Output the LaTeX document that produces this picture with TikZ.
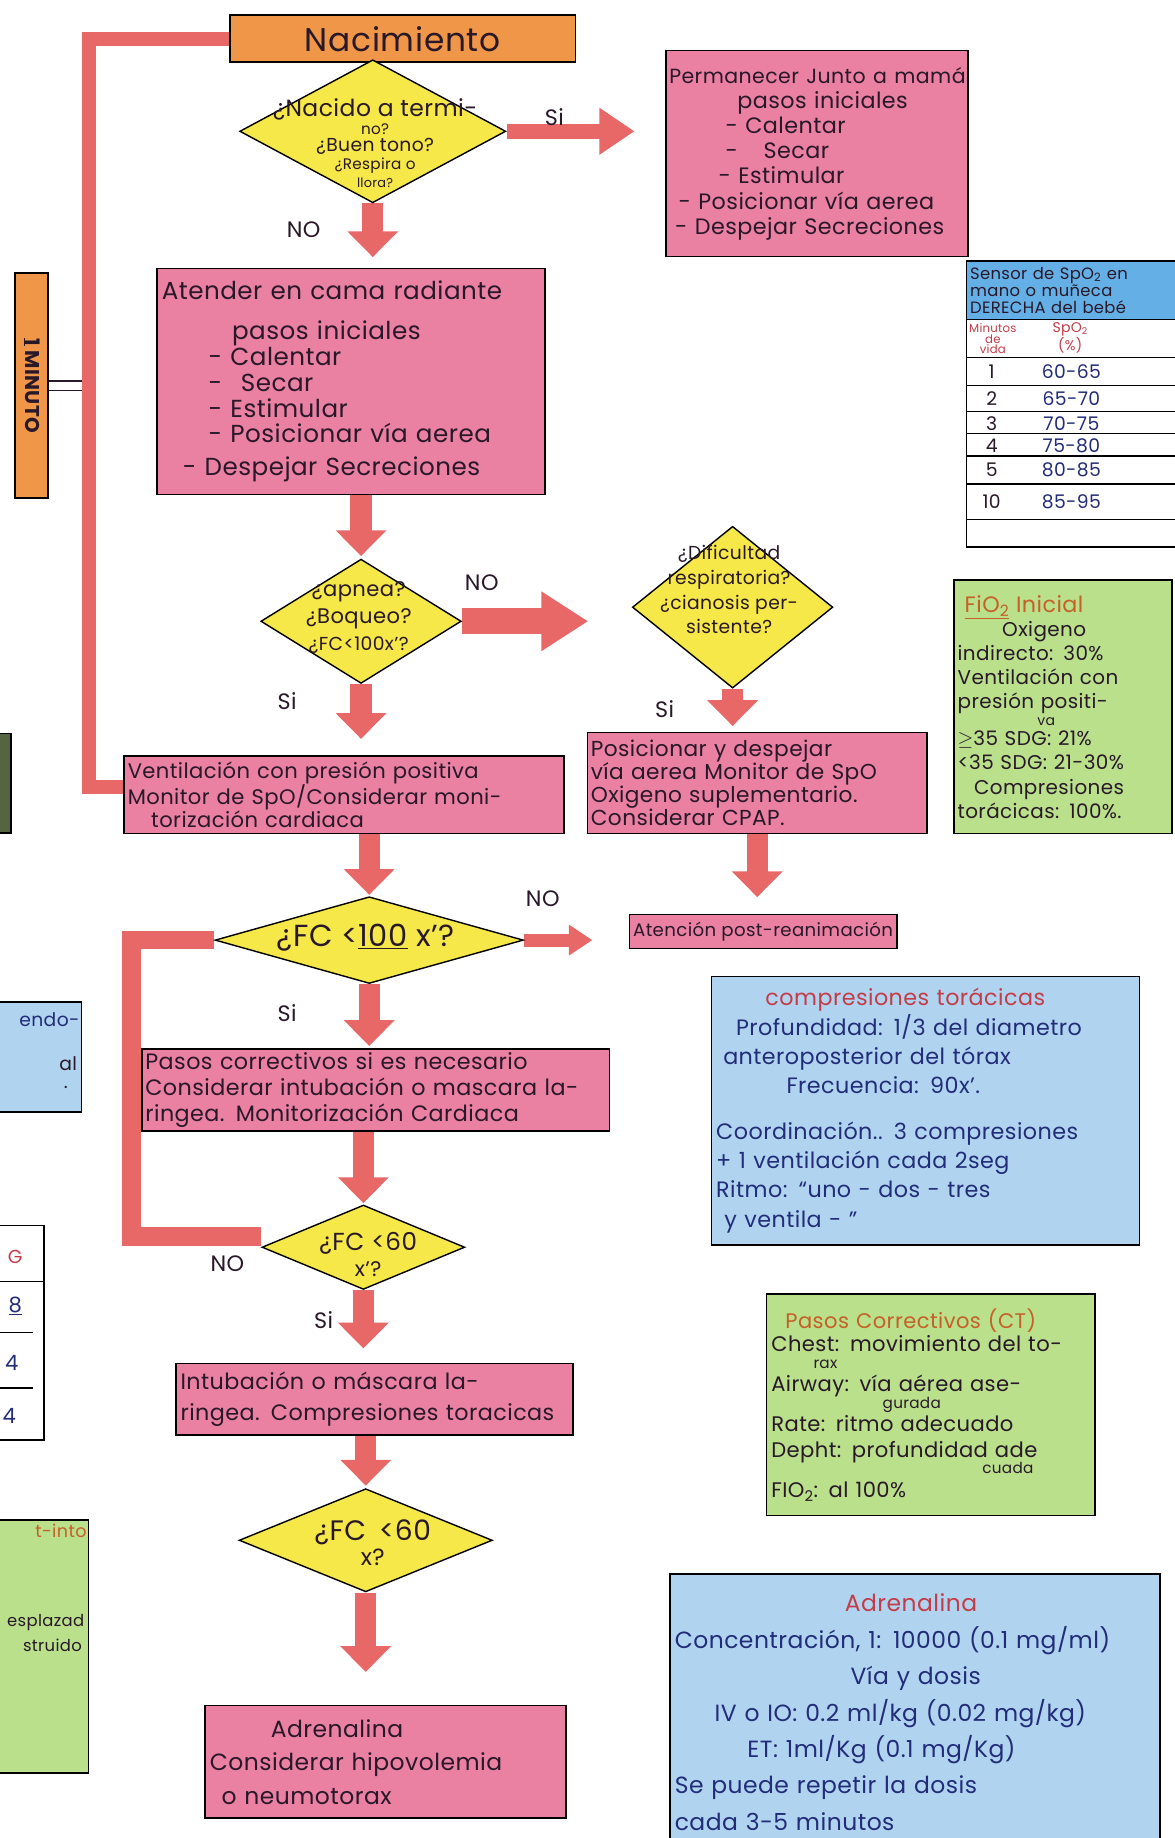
\documentclass[tikz,border=0pt]{standalone}
\usepackage{fontspec}
\setmainfont{Poppins}[LetterSpace=2.0]
\usetikzlibrary{shapes.geometric,arrows.meta,calc}
\pgfdeclarelayer{paper}
\pgfdeclarelayer{bg}
\pgfsetlayers{paper,bg,main}
\definecolor{pinkc}{RGB}{234,128,162}
\definecolor{arrowc}{RGB}{232,104,104}
\definecolor{yelc}{RGB}{246,232,72}
\definecolor{orc}{RGB}{240,150,72}
\definecolor{bluec}{RGB}{176,212,240}
\definecolor{bluehd}{RGB}{100,176,230}
\definecolor{greenc}{RGB}{186,224,140}
\definecolor{inkc}{RGB}{40,24,40}
\definecolor{blueink}{RGB}{34,44,120}
\definecolor{redink}{RGB}{196,60,72}
\definecolor{brownink}{RGB}{196,96,40}
\newcommand\fsz[2]{\fontsize{#1pt}{#2pt}\selectfont}
\begin{document}
\begin{tikzpicture}[x=1pt,y=-1pt,
  box/.style={draw=black, line width=1.3pt, text=inkc, inner sep=3pt},
  pinkbox/.style={box, fill=pinkc},
  dia/.style={diamond, draw=black, line width=1.2pt, fill=yelc, inner sep=0pt},
  dtext/.style={align=center, text=inkc, inner sep=0pt},
  lbl/.style={text=inkc, font=\fsz{19}{20}},
  arrowA/.style={draw=arrowc, line width=18pt, -{Triangle[length=22pt,width=42pt]}},
  arrowS/.style={draw=arrowc, line width=13pt, -{Triangle[length=30pt,width=38pt]}},
  arrowW/.style={draw=arrowc, line width=22pt, -{Triangle[length=40pt,width=48pt]}},
  arrowN/.style={draw=arrowc, line width=11pt, -{Triangle[length=20pt,width=25pt]}},
  redline/.style={draw=arrowc, line width=12pt},
  redline2/.style={draw=arrowc, line width=16pt},
  thinline/.style={draw=black, line width=1.1pt},
]
\useasboundingbox (0,0) rectangle (1002,1568);
\begin{pgfonlayer}{paper}
\fill[white] (0,0) rectangle (1002,1568);
\end{pgfonlayer}

% ---------- main column ----------
\node[box, fill=orc, minimum width=295, minimum height=40, font=\fsz{28}{30}] (nac) at (343.5,33) {Nacimiento};
\node[dia, minimum width=227, minimum height=122] (d1) at (318,112) {};
\node[dtext, font=\fsz{16}{15}] (d1t) at (320,122) {\fsz{20}{20}¿Nacido a termi-\\\fsz{13}{13}no?\\\fsz{16}{16}¿Buen tono?\\\fsz{13}{13}¿Respira o\\\fsz{11}{11}llora?};
\node[lbl] (si1) at (473,100) {Si};
\node[lbl] (no1) at (259,196) {NO};

\node[pinkbox, minimum width=258, minimum height=176, text width=252, align=left, inner sep=2pt, font=\fsz{19}{21.5}] (per) at (697,131) {\mbox{\fsz{17.5}{21.5}Permanecer Junto a mamá}\\
\hspace*{58pt}pasos iniciales\\
\hspace*{48pt}- Calentar\\
\hspace*{48pt}-\hspace{22pt}Secar\\
\hspace*{42pt}- Estimular\\
\hspace*{8pt}- Posicionar vía aerea\\
\hspace*{5pt}- Despejar Secreciones};

\node[pinkbox, minimum width=331, minimum height=193, text width=323, align=left, font=\fsz{21}{22}] (ate) at (299.5,325.5) {Atender en cama radiante\\[12pt]
\hspace*{60pt}pasos iniciales\\
\hspace*{40pt}- Calentar\\
\hspace*{40pt}-\hspace{16pt}Secar\\
\hspace*{40pt}- Estimular\\
\hspace*{40pt}- Posicionar vía aerea\\[6pt]
\hspace*{18pt}- Despejar Secreciones};

\node[box, fill=orc, rotate=-90, minimum width=192, minimum height=28, inner sep=0pt, font=\fsz{17}{17}\bfseries] (min) at (27,329) {\underline{1} MINUTO};

\node[dia, minimum width=171, minimum height=106] (d2) at (308,530) {};
\node[dtext, font=\fsz{18}{23}] (d2t) at (306,527) {¿apnea?\\¿Boqueo?\\\fsz{16}{16}¿FC<100x'?};
\node[lbl] (no2) at (411,497) {NO};
\node[lbl] (si2) at (245,598) {Si};

\node[pinkbox, minimum width=375, minimum height=66, text width=369, align=left, inner sep=2pt, font=\fsz{18}{19.5}] (vent) at (293.5,678) {Ventilación con presión positiva\\
Monitor de SpO/Considerar moni-\\
\hspace*{20pt}torización cardiaca};

\node[dia, minimum width=263, minimum height=74] (d4) at (315,802) {};
\node[dtext, font=\fsz{26}{26}] (d4t) at (312,800) {¿FC <\underline{100} x'?};
\node[lbl] (no4) at (463,767) {NO};
\node[lbl] (si4) at (245,864) {Si};

\node[pinkbox, minimum width=399, minimum height=70, text width=393, align=left, inner sep=2pt, font=\fsz{19}{22}] (pasos) at (320.5,930) {Pasos correctivos si es necesario\\
Considerar intubación o mascara la-\\
ringea. Monitorización Cardiaca};

\node[dia, minimum width=173, minimum height=72] (d5) at (310,1064) {};
\node[dtext, font=\fsz{21}{22}] (d5t) at (314,1070) {¿FC <60\\\fsz{18}{18}x'?};
\node[lbl] (no5) at (194,1078) {NO};
\node[lbl] (si5) at (276,1126) {Si};

\node[pinkbox, minimum width=339, minimum height=61, text width=331, align=left, font=\fsz{19}{26}] (intub) at (319.5,1193.5) {\makebox[318pt][s]{Intubación o máscara la-}\\
ringea. Compresiones toracicas};

\node[dia, minimum width=216, minimum height=88] (d6) at (312,1314) {};
\node[dtext, font=\fsz{24}{22}] (d6t) at (318,1316) {¿FC \,<60\\\fsz{20}{20}x?};

\node[pinkbox, minimum width=308, minimum height=96, text width=300, align=left, font=\fsz{20}{28.5}] (adren) at (329,1503) {\hspace*{52pt}Adrenalina\\
\makebox[290pt][s]{Considerar hipovolemia}\\
\hspace*{10pt}o neumotorax};

% ---------- second column ----------
\node[dia, minimum width=171, minimum height=138] (d3) at (625,518) {};
\node[dtext, font=\fsz{16}{21}] (d3t) at (622,503) {¿Dificultad\\respiratoria?\\¿cianosis per-\\sistente?};
\node[lbl] (si3) at (567,605) {Si};

\node[pinkbox, minimum width=290, minimum height=86, text width=284, align=left, inner sep=2pt, font=\fsz{18.5}{19.5}] (posic) at (646,668) {Posicionar y despejar\\
vía aerea Monitor de SpO\\
Oxigeno suplementario.\\
Considerar CPAP.};

\node[pinkbox, minimum width=228, minimum height=29, inner sep=1pt, font=\fsz{15.5}{18}] (atenc) at (651,794.5) {Atención post-reanimación};

% ---------- right column ----------
\node[box, fill=bluehd, anchor=north west, minimum width=200, minimum height=50, text width=194, align=left, inner sep=3pt, font=\fsz{14}{14.5}] (senh) at (824,222) {Sensor de SpO\textsubscript{2} en\\mano o muñeca\\DERECHA del bebé};
\node[box, fill=white, anchor=north west, minimum width=200, minimum height=194] (tab) at (824,272) {};
\node[text=redink, align=center, inner sep=0pt, font=\fsz{10}{9}] (th1) at (847,289) {Minutos\\de\\vida};
\node[text=redink, align=center, inner sep=0pt, font=\fsz{12}{11}] (th2) at (913,288) {SpO\textsubscript{2}\\(\%)};
\foreach \yy in {305,329,351,370,389,413,443}{\draw[thinline] (tab.west |- 0,\yy) -- (tab.east |- 0,\yy);}
\foreach \n/\v/\yy in {1/60-65/317,2/65-70/340,3/70-75/361,4/75-80/380,5/80-85/401,10/85-95/428}{
  \node[text=inkc, inner sep=0pt, font=\fsz{16}{16}] (r\n a) at (846,\yy) {\n};
  \node[text=blueink, inner sep=0pt, font=\fsz{16}{16}] (r\n b) at (914,\yy) {\v};
}

\node[box, fill=greenc, minimum width=186, minimum height=216, text width=180, align=left, inner sep=3pt, font=\fsz{17}{20.5}] (fio) at (907,603) {\hspace*{6pt}{\color{brownink}\fsz{19}{20}\underline{FiO\textsubscript{2}} Inicial}\\
\hspace*{38pt}Oxigeno\\
indirecto: 30\%\\
Ventilación con\\
presión positi-\\[-6pt]
\hspace*{68pt}{\fsz{12}{10}va}\\[-3pt]
$\geq$35 SDG: 21\%\\
<35 SDG: 21-30\%\\
\hspace*{14pt}Compresiones\\
torácicas: 100\%.};

\node[box, fill=bluec, text=blueink, minimum width=365, minimum height=229, text width=357, align=left, inner sep=3pt, font=\fsz{19}{25}] (comp) at (789.5,947.5) {\hspace*{42pt}{\color{redink}compresiones torácicas}\\
\hspace*{17pt}Profundidad: 1/3 del diametro\\
\hspace*{6pt}anteroposterior del tórax\\
\hspace*{60pt}Frecuencia: 90x'.\\[14pt]
Coordinación.. 3 compresiones\\
+ 1 ventilación cada 2seg\\
Ritmo: “uno - dos - tres\\
\hspace*{7pt}y ventila - ”};

\node[box, fill=greenc, minimum width=280, minimum height=189, text width=272, align=left, inner sep=3pt, font=\fsz{18}{20}] (ct) at (794,1198.5) {\hspace*{12pt}{\color{brownink}Pasos Correctivos (CT)}\\
Chest: movimiento del to-\\[-6pt]
\hspace*{36pt}{\fsz{13}{12}rax}\\
Airway: vía aérea ase-\\[-6pt]
\hspace*{95pt}{\fsz{13}{12}gurada}\\
Rate: ritmo adecuado\\[2pt]
Depht: profundidad ade\\[-6pt]
\hspace*{180pt}{\fsz{13}{12}cuada}\\
FIO\textsubscript{2}: al 100\%};

\node[box, fill=bluec, text=blueink, anchor=north west, minimum width=418, minimum height=236, text width=410, align=left, inner sep=3pt, font=\fsz{20}{31}] (adr2) at (571,1342) {\hspace*{145pt}{\color{redink}Adrenalina}\\
Concentración, 1: 10000 (0.1 mg/ml)\\
\hspace*{150pt}Vía y dosis\\
\hspace*{34pt}IV o IO: 0.2 ml/kg (0.02 mg/kg)\\
\hspace*{62pt}ET: 1ml/Kg (0.1 mg/Kg)\\
Se puede repetir la dosis\\
cada 3-5 minutos};

% ---------- left partial boxes ----------
\node[box, fill=greenc!45!black, minimum width=60, minimum height=85, anchor=north east] (lb1) at (10,625) {};
\node[box, fill=bluec, minimum width=150, minimum height=94, anchor=north east] (lb2) at (70,854) {};
\node[text=blueink, anchor=east, inner sep=0pt, font=\fsz{16}{16}] (lb2a) at (68,870) {endo-};
\node[text=inkc, anchor=east, inner sep=0pt, font=\fsz{16}{16}] (lb2b) at (66,907) {al};
\node[text=inkc, anchor=east, inner sep=0pt, font=\fsz{16}{16}] (lb2c) at (58,928) {.};
\node[box, fill=white, minimum width=120, minimum height=183, anchor=north east] (ltab) at (38,1045) {};
\draw[thinline] (ltab.west |- 0,1093) -- (ltab.east |- 0,1093);
\draw[thinline] (ltab.west |- 0,1137) -- (28,1137);
\draw[thinline] (ltab.west |- 0,1184) -- (28,1184);
\node[text=redink, inner sep=0pt, font=\fsz{16}{16}] (lt1) at (13,1072) {G};
\node[text=blueink, inner sep=0pt, font=\fsz{18}{18}] (lt2) at (13,1114) {\underline{8}};
\node[text=blueink, inner sep=0pt, font=\fsz{18}{18}] (lt3) at (10,1163) {4};
\node[text=blueink, inner sep=0pt, font=\fsz{18}{18}] (lt4) at (8,1208) {4};
\node[box, fill=greenc, minimum width=150, minimum height=216, anchor=north east] (lb3) at (76,1296) {};
\node[text=brownink, anchor=east, inner sep=0pt, font=\fsz{15}{16}] (lb3a) at (74,1306) {t-into};
\node[text=inkc, anchor=east, inner sep=0pt, font=\fsz{14}{16}] (lb3b) at (72,1384) {esplazad};
\node[text=inkc, anchor=east, inner sep=0pt, font=\fsz{14}{16}] (lb3c) at (70,1404) {struido};

% ---------- connectors (behind the nodes) ----------
\begin{pgfonlayer}{bg}
\coordinate (lx) at (76,0);
\coordinate (lx2) at (112,0);
\draw[line width=1pt, draw=inkc] ([yshift=4pt]min.north) -- ([yshift=4pt]min.north -| lx);
\draw[line width=1pt, draw=inkc] ([yshift=-4pt]min.north) -- ([yshift=-4pt]min.north -| lx);
\draw[redline] (nac.west) -- (nac.west -| lx) -- ([yshift=7pt]vent.west -| lx) -- ([yshift=7pt]vent.west);
\draw[redline2] (d4.west) -- (d4.west -| lx2) -- ([yshift=9pt]d5.west -| lx2) -- ([yshift=9pt]d5.west);

\draw[arrowS, shorten >=26pt] (d1.east) -- (d1.east -| per.west);
\draw[arrowA, shorten >=9pt] (d1.south) -- (d1.south |- ate.north);
\draw[arrowA, shorten >=2pt] (d2.north |- ate.south) -- (d2.north);
\draw[arrowW, shorten >=37pt] (d2.east) -- (d2.east -| d3.west);
\draw[arrowA, shorten >=14pt] (d2.south) -- (d2.south |- vent.north);
\draw[arrowA, shorten >=5pt] (d3.south) -- (d3.south |- posic.north);
\draw[arrowA, shorten >=14pt] (posic.south) -- (posic.south |- atenc.north);
\draw[arrowA, shorten >=1pt] (d4.north |- vent.south) -- (d4.north);
\draw[arrowN, shorten >=31pt] (d4.east) -- (d4.east -| atenc.west);
\draw[arrowA, shorten >=2pt] (d4.south) -- (d4.south |- pasos.north);
\draw[arrowA, shorten >=1pt] (d5.north |- pasos.south) -- (d5.north);
\draw[arrowA, shorten >=12pt] (d5.south) -- (d5.south |- intub.north);
\draw[arrowA, shorten >=2pt] (d6.north |- intub.south) -- (d6.north);
\draw[arrowA, shorten >=28pt] (d6.south) -- (d6.south |- adren.north);
\end{pgfonlayer}
\end{tikzpicture}
\end{document}
